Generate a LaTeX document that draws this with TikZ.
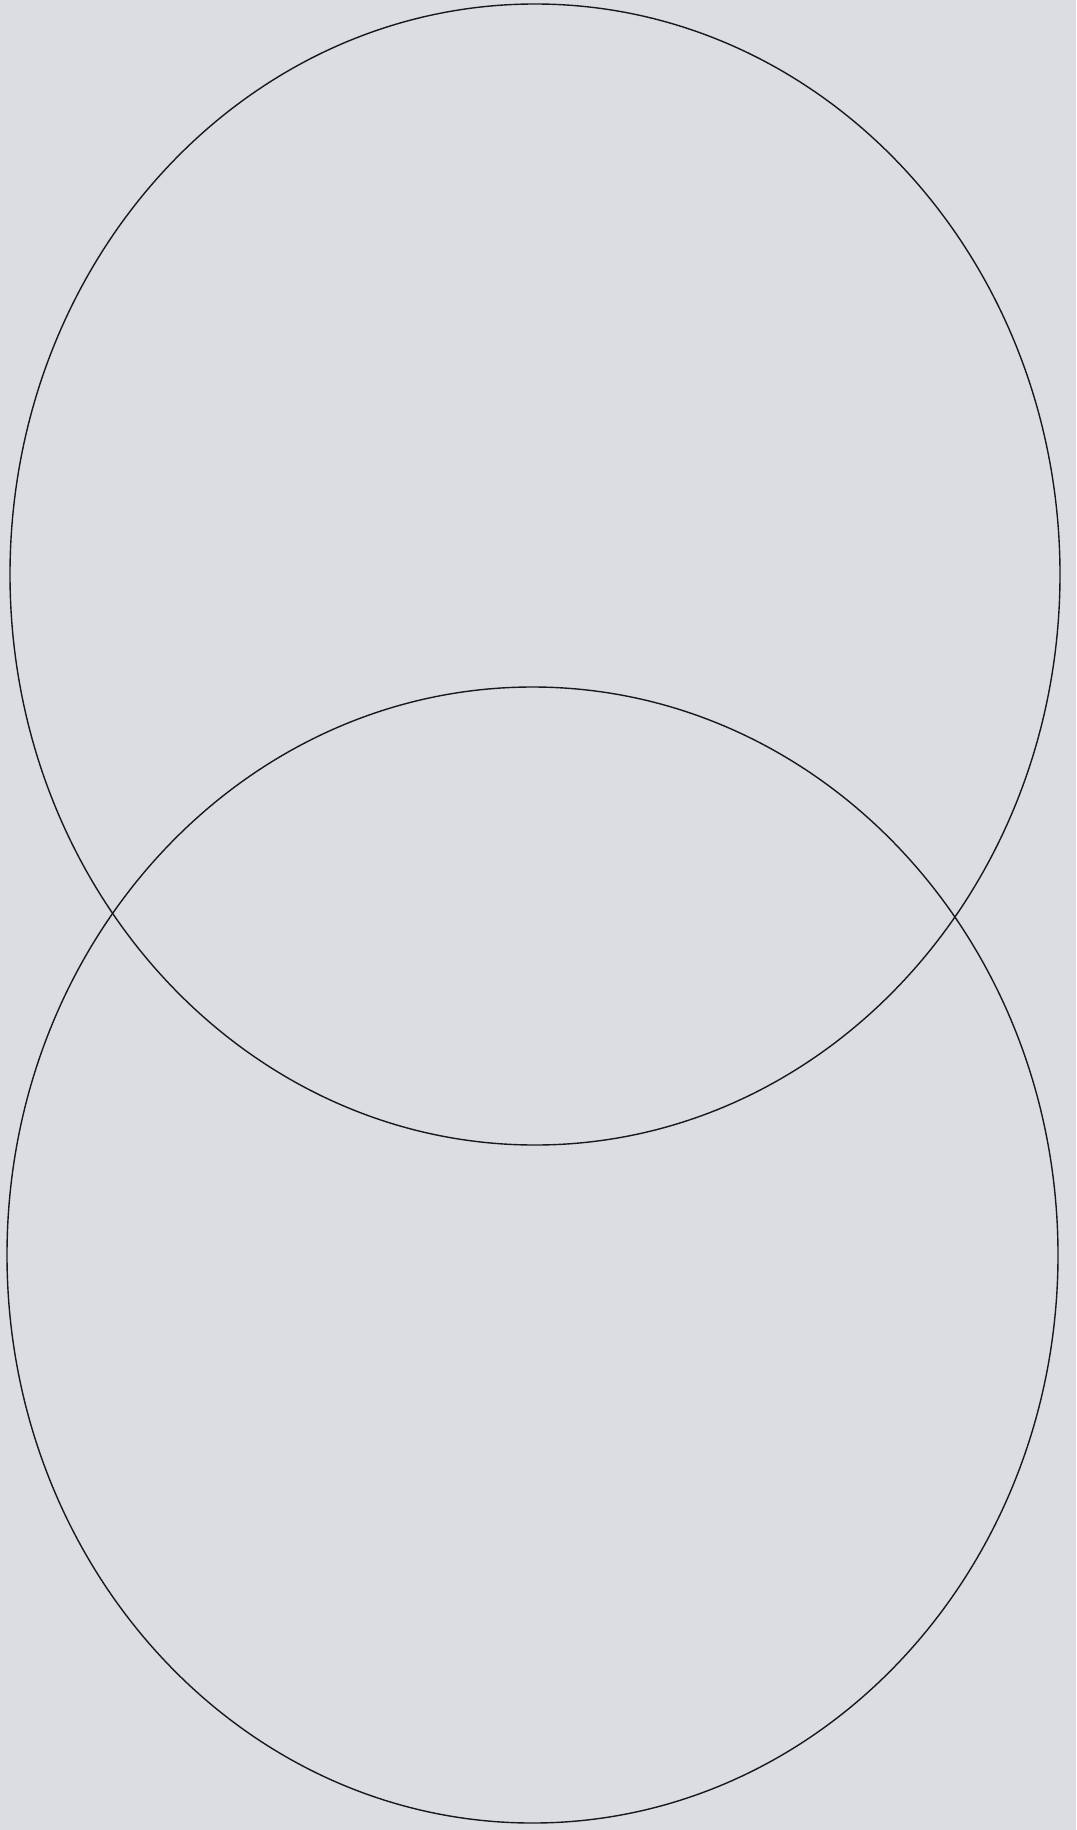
\documentclass[tikz,border=0pt]{standalone}
\definecolor{paper}{RGB}{219,221,227}
\definecolor{ink}{RGB}{25,25,28}
\begin{document}
\begin{tikzpicture}[x=1pt,y=-1pt,
  ring/.style={draw=ink,line width=1.4pt}]
\fill[paper] (0,0) rectangle (1076,1830);
\useasboundingbox (0,0) rectangle (1076,1830);
\coordinate (ctop) at (535,574.5);
\coordinate (cbot) at (532.5,1255);
\draw[ring] (ctop) ellipse [x radius=525, y radius=570.5];
\draw[ring] (cbot) ellipse [x radius=525.5, y radius=568];
\end{tikzpicture}
\end{document}
